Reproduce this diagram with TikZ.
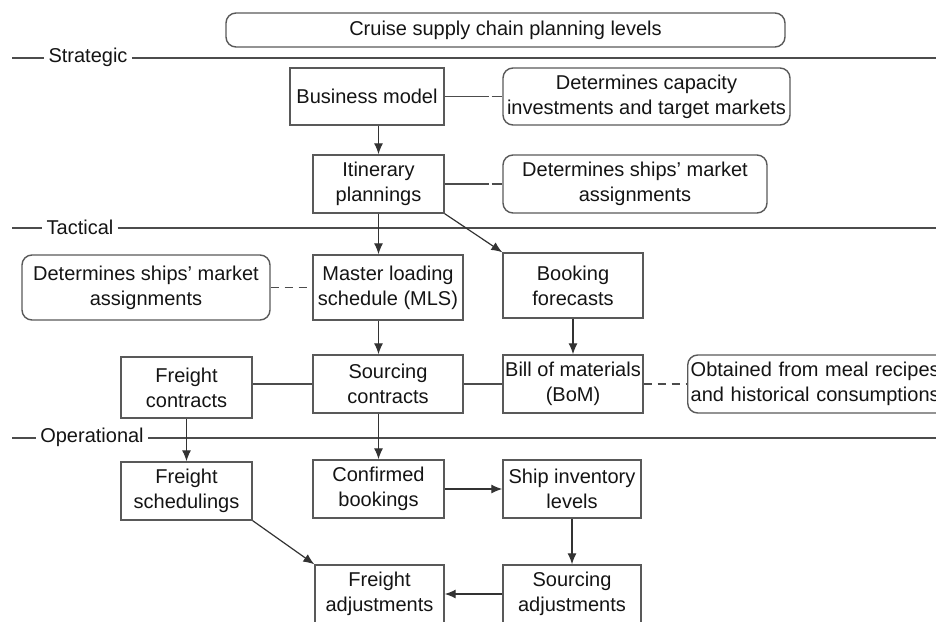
\documentclass[tikz,border=0pt]{standalone}
\usepackage{fontspec}
\setmainfont{Liberation Sans}
\usetikzlibrary{arrows.meta}
\begin{document}
\begin{tikzpicture}[x=0.5pt,y=-0.5pt,
  font=\fontsize{10}{12.5}\selectfont,
  every node/.style={text=black!92},
  bx/.style={draw=black!65,line width=0.7pt,align=center,inner sep=1pt},
  note/.style={bx,rounded corners=5pt},
  arr/.style={draw=black!80,line width=0.6pt,-{Latex[length=5.5pt,width=4.5pt]}},
  con/.style={draw=black!70,line width=0.6pt},
  lvl/.style={draw=black!70,line width=0.9pt},
  lbl/.style={inner sep=2pt}]
\useasboundingbox (0,0) rectangle (936,621);
% title
\node[note,minimum width=279.5pt,minimum height=17pt] (title) at (505.5,30) {Cruise supply chain planning levels};
% level lines
\coordinate (s0) at (12,58);  \coordinate (s1) at (936,58);
\node[lbl] (strat) at (88,57) {Strategic};
\draw[lvl] (s0) -- (s0 -| strat.west) (strat.east |- s0) -- (s1);
\coordinate (t0) at (12,228); \coordinate (t1) at (936,228);
\node[lbl] (tact) at (80,227) {Tactical};
\draw[lvl] (t0) -- (t0 -| tact.west) (tact.east |- t0) -- (t1);
\coordinate (o0) at (12,438); \coordinate (o1) at (936,438);
\node[lbl] (oper) at (92,437) {Operational};
\draw[lvl] (o0) -- (o0 -| oper.west) (oper.east |- o0) -- (o1);
% boxes
\node[bx,minimum width=77pt,minimum height=28.5pt] (bm) at (367,96.5) {Business model};
\node[note,minimum width=143.5pt,minimum height=28.5pt] (n1) at (646.5,96.5) {Determines capacity\\investments and target markets};
\node[bx,minimum width=65.5pt,minimum height=29pt] (it) at (378.5,184) {Itinerary\\plannings};
\node[note,minimum width=132pt,minimum height=29pt] (n2) at (635,184) {Determines ships’ market\\assignments};
\node[bx,minimum width=75pt,minimum height=32.5pt] (mls) at (388,287.5) {Master loading\\schedule (MLS)};
\node[bx,minimum width=70pt,minimum height=32.5pt] (bf) at (573,285.5) {Booking\\forecasts};
\node[note,minimum width=124pt,minimum height=32.5pt] (n3) at (146,287.5) {Determines ships’ market\\assignments};
\node[bx,minimum width=65.5pt,minimum height=30.5pt] (fc) at (186.5,387.5) {Freight\\contracts};
\node[bx,minimum width=75pt,minimum height=29pt] (sc) at (388,384) {Sourcing\\contracts};
\node[bx,minimum width=70pt,minimum height=29pt] (bom) at (573,384) {Bill of materials\\(BoM)};
\node[note,anchor=west,align=left,inner xsep=1.5pt,minimum height=29pt,text width=148pt] (n4) at (687,384) {Obtained from meal recipes\\and historical consumptions};
\node[bx,minimum width=65.5pt,minimum height=29pt] (fs) at (186.5,491) {Freight\\schedulings};
\node[bx,minimum width=65.5pt,minimum height=29pt] (cb) at (378.5,489) {Confirmed\\bookings};
\node[bx,minimum width=69pt,minimum height=29pt] (sil) at (572,489) {Ship inventory\\levels};
\node[bx,minimum width=64.5pt,minimum height=29pt] (fa) at (379.5,594) {Freight\\adjustments};
\node[bx,minimum width=69pt,minimum height=29pt] (sa) at (572,594) {Sourcing\\adjustments};
% note connectors
\draw[con,dash pattern=on 22pt off 1.5pt on 8pt off 0pt] (bm.east |- n1.west) -- (n1.west);
\draw[con,dash pattern=on 22pt off 1.5pt on 8pt off 0pt] (it.east |- n2.west) -- (n2.west);
\draw[con,dash pattern=on 4pt off 3pt] (n3.east) -- (mls.west);
\draw[con,dash pattern=on 4pt off 3pt] (bom.east) -- (n4.west);
% solid links
\draw[con] (fc.east |- sc.west) -- (sc.west);
\draw[con] (sc.east) -- (bom.west);
% arrows
\draw[arr] (bm.south -| it.north) -- (it.north);
\draw[arr] (it.south) -- (it.south |- mls.north);
\draw[arr] (it.south east) -- (bf.north west);
\draw[arr] (mls.south -| cb.north) -- (sc.north -| cb.north);
\draw[arr] (bf.south) -- (bom.north);
\draw[arr] (fc.south) -- (fs.north);
\draw[arr] (sc.south -| cb.north) -- (cb.north);
\draw[arr] (cb.east) -- (sil.west);
\draw[arr] (sil.south) -- (sa.north);
\draw[arr] (fs.south east) -- (fa.north west);
\draw[arr] (sa.west) -- (fa.east);
\end{tikzpicture}
\end{document}
